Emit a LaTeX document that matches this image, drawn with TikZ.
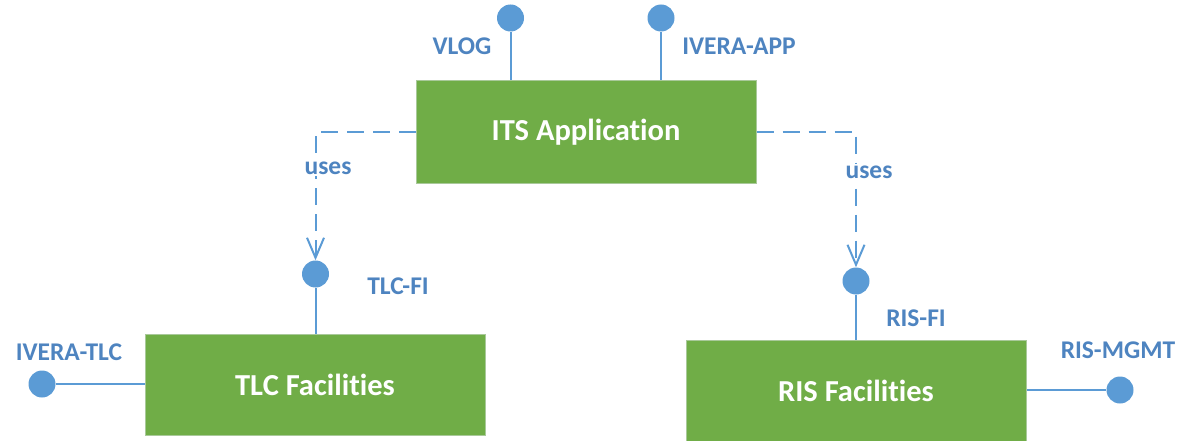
\documentclass[tikz,border=0pt]{standalone}
\usepackage{fontspec}
\setmainfont[Ligatures=NoCommon]{Carlito}
\usetikzlibrary{arrows.meta}
\definecolor{boxgreen}{HTML}{70AD47}
\definecolor{boxedge}{HTML}{A9C99A}
\definecolor{portblue}{HTML}{5B9BD5}
\definecolor{labelblue}{HTML}{4E84C0}
\tikzset{
  comp/.style={fill=boxgreen, draw=boxedge, line width=1pt, inner sep=0pt,
    font=\fontsize{30.5}{34}\selectfont\bfseries, text=white},
  port/.style={circle, fill=portblue, draw=none, minimum size=27pt, inner sep=0pt},
  plabel/.style={font=\fontsize{25.5}{29}\selectfont\bfseries, text=labelblue, inner sep=0pt},
  solidlink/.style={draw=portblue, line width=2pt},
  uselink/.style={draw=portblue, line width=2pt, dash pattern=on 17pt off 9pt,
    -{Straight Barb[length=20pt,width=17pt,line width=2pt]}},
}
\begin{document}
\begin{tikzpicture}[x=1pt,y=-1pt]
\useasboundingbox (0,0) rectangle (1185,441);
\clip (0,0) rectangle (1185,441);
% components
\node[comp, minimum width=340pt, minimum height=102pt] (its) at (586,132) {ITS Application};
\node[comp, minimum width=340pt, minimum height=101pt] (tlc) at (315,384.5) {TLC Facilities};
\node[comp, minimum width=340pt, minimum height=102pt] (ris) at (856,391) {RIS Facilities};
% ports
\node[port] (vlog) at (510.5,18) {};
\node[port] (iveraapp) at (661,18) {};
\node[port] (tlcfi) at (315.5,274) {};
\node[port] (risfi) at (856,281) {};
\node[port] (iveratlc) at (42,384) {};
\node[port] (rismgmt) at (1120,390) {};
% labels
\node[plabel] (lvlog) at (462,46) {VLOG};
\node[plabel] (liveraapp) at (739,46) {IVERA-APP};
\node[plabel] (ltlcfi) at (398,286) {TLC-FI};
\node[plabel] (lrisfi) at (916,318) {RIS-FI};
\node[plabel] (liveratlc) at (69,352) {IVERA-TLC};
\node[plabel] (lrismgmt) at (1118,350) {RIS-MGMT};
% solid connectors
\draw[solidlink] (vlog) -- (vlog |- its.north);
\draw[solidlink] (iveraapp) -- (iveraapp |- its.north);
\draw[solidlink] (tlcfi) -- (tlcfi |- tlc.north);
\draw[solidlink] (risfi) -- (risfi |- ris.north);
\draw[solidlink] (iveratlc) -- (iveratlc -| tlc.west);
\draw[solidlink] (rismgmt) -- (rismgmt -| ris.east);
% uses connectors
\draw[uselink] (its.west) -| (tlcfi.north);
\draw[uselink] (its.east) -| (risfi.north);
\node[plabel, fill=white, inner sep=2pt] (uses1) at (328,168) {uses};
\node[plabel, fill=white, inner sep=2pt] (uses2) at (869,172) {uses};
\end{tikzpicture}
\end{document}
